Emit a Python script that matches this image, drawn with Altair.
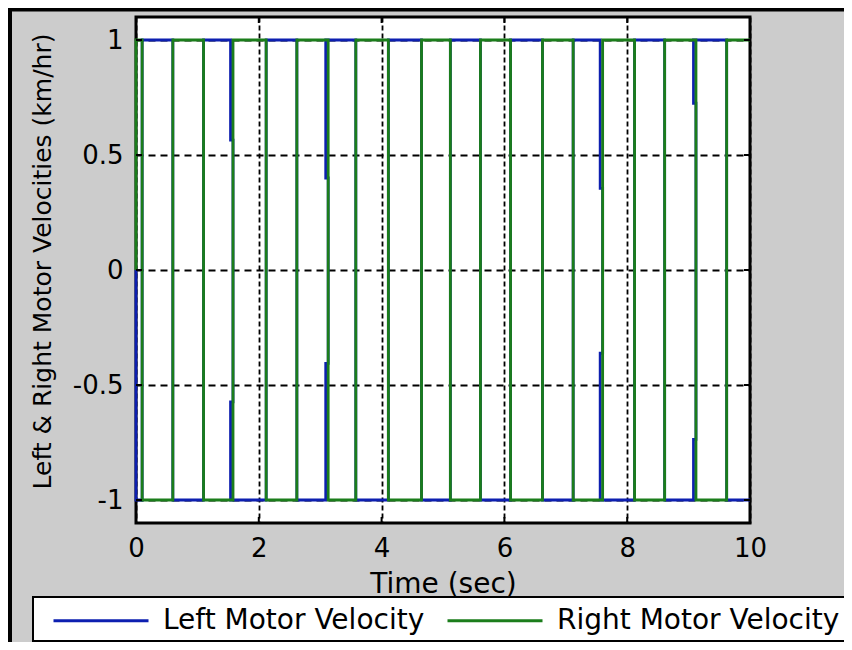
import altair as alt
import pandas as pd

# ---------------- data ----------------
series_names = ["Left Motor Velocity", "Right Motor Velocity"]
series_colors = ["#0d1fb0", "#1b7d1b"]

# Right motor: starts at 0, jumps to +1 at t=0, then toggles between +1 and -1
# at each switch time. Left motor is its mirror image (starts at 0, jumps to -1).
switch_times = [0.10, 0.60, 1.10, 1.58, 2.12, 2.62, 3.13, 3.58, 4.11, 4.65,
                5.12, 5.61, 6.10, 6.62, 7.12, 7.60, 8.12, 8.61, 9.12, 9.62]
right_start_level = 1.0
left_start_level = -1.0
t_end = 10.0
# switches where the left motor leads slightly and shows intermediate samples
lead_switch_times = [1.58, 3.13, 7.60, 9.12]
lead_upper_values = [0.565, 0.40, 0.355, 0.725]
lead_lower_values = [-0.573, -0.406, -0.362, -0.736]
lead_time = 0.04

x_tick_values = [0, 2, 4, 6, 8, 10]
y_tick_values = [-1, -0.5, 0, 0.5, 1]
x_domain = [0, 10]
y_domain = [-1.1, 1.1]

# ---------------- build tables ----------------
lead_of = {t: (u, l) for t, u, l in zip(lead_switch_times, lead_upper_values, lead_lower_values)}


def build(start_level, name, with_lead):
    ts, vs = [0.0, 0.0], [0.0, start_level]
    level = start_level
    for t in switch_times:
        if with_lead and t in lead_of:
            up, lo = lead_of[t]
            a, b = (up, lo) if level > 0 else (lo, up)
            tl = t - lead_time
            ts += [tl, tl, t, t, tl, tl]
            vs += [level, a, a, b, b, -level]
            level = -level
        else:
            ts += [t, t]
            vs += [level, -level]
            level = -level
    ts.append(t_end)
    vs.append(level)
    return pd.DataFrame({"t": ts, "v": vs, "i": list(range(len(ts))), "series": name})


left_df = build(left_start_level, series_names[0], True)
right_df = build(right_start_level, series_names[1], False)

W, H = 614, 506
FONT = "DejaVu Sans"

xscale = alt.Scale(domain=x_domain, nice=False, zero=False)
yscale = alt.Scale(domain=y_domain, nice=False, zero=False)
cscale = alt.Scale(domain=series_names, range=series_colors)

x_axis = alt.Axis(values=x_tick_values, title="Time (sec)", labelExpr="datum.value + ''",
                  grid=True, gridDash=[5, 3], gridColor="black", gridWidth=1.8, gridOpacity=1,
                  ticks=False, domain=False, labelPadding=12, labelFlush=False,
                  labelFont=FONT, labelFontSize=26, labelColor="black",
                  titleFont=FONT, titleFontSize=28, titleFontWeight="normal", titleColor="black",
                  titleY=47, titleBaseline="top")
y_axis = alt.Axis(values=y_tick_values, title="Left & Right Motor Velocities (km/hr)",
                  labelExpr="datum.value + ''",
                  grid=True, gridDash=[7, 5], gridColor="black", gridWidth=1.8, gridOpacity=1,
                  ticks=False, domain=False, labelPadding=13, labelFlush=False,
                  labelFont=FONT, labelFontSize=26, labelColor="black",
                  titleFont=FONT, titleFontSize=25, titleFontWeight="normal", titleColor="black",
                  titleX=-86, titleY=244, titleBaseline="alphabetic")

x_enc = alt.X("t:Q", scale=xscale, axis=x_axis)
y_enc = alt.Y("v:Q", scale=yscale, axis=y_axis)

legend = alt.Legend(title=None, orient="none", legendX=-103, legendY=580, direction="horizontal",
                    symbolType="M-0.1875,0H5.75", symbolSize=1024, symbolStrokeWidth=3,
                    labelOffset=89, columnPadding=8, padding=6,
                    fillColor="white", strokeColor="black",
                    labelFont=FONT, labelFontSize=28, labelColor="black", labelLimit=600)

color_enc = alt.Color("series:N", scale=cscale, legend=legend)

left_line = alt.Chart(left_df).mark_line(strokeWidth=2.8).encode(
    x=x_enc, y=y_enc, order="i:Q", color=color_enc)
right_line = alt.Chart(right_df).mark_line(strokeWidth=2.8).encode(
    x=x_enc, y=y_enc, order="i:Q", color=color_enc)

xt = pd.DataFrame({"t": x_tick_values})
yt = pd.DataFrame({"v": y_tick_values})
top_ticks = alt.Chart(xt).mark_rule(color="black", strokeWidth=2).encode(x=x_enc, y=alt.value(0), y2=alt.value(6))
bottom_ticks = alt.Chart(xt).mark_rule(color="black", strokeWidth=2).encode(x=x_enc, y=alt.value(H - 6), y2=alt.value(H))
left_ticks = alt.Chart(yt).mark_rule(color="black", strokeWidth=2).encode(y=y_enc, x=alt.value(0), x2=alt.value(6))
right_ticks = alt.Chart(yt).mark_rule(color="black", strokeWidth=2).encode(y=y_enc, x=alt.value(W - 6), x2=alt.value(W))

# figure border (screenshot frame)
frame = alt.Chart(pd.DataFrame({"k": [0]})).mark_rect(fillOpacity=0, stroke="black", strokeWidth=4).encode(
    x=alt.value(-126), x2=alt.value(1000), y=alt.value(-7.5), y2=alt.value(1000))

chart = alt.layer(left_line, right_line, top_ticks, bottom_ticks, left_ticks, right_ticks, frame).properties(
    width=W, height=H,
    autosize=alt.AutoSizeParams(type="none"),
    padding={"left": 128, "top": 9, "right": 94, "bottom": 119},
    background="#cccccc",
).configure_view(
    stroke="black", strokeWidth=3, fill="white"
).configure_legend(
    strokeWidth=2
)

chart.save("out.html", embed_options={"renderer": "svg", "actions": False})
